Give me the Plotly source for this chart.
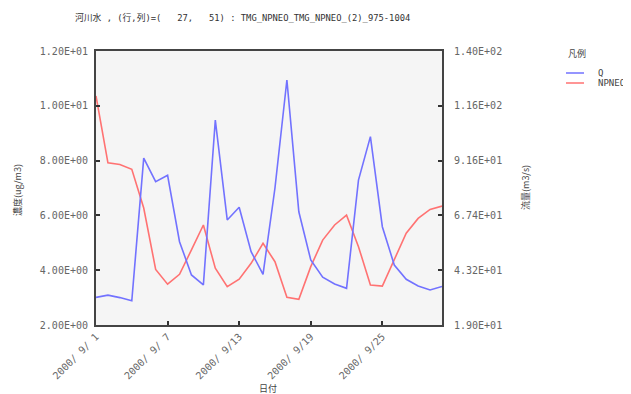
import plotly.graph_objects as go

dates = [f"2000-09-{d:02d}" for d in range(1, 31)]

q_values = [31.2, 32.2, 31.1, 29.7, 92.7, 82.3, 85.1, 55.8, 41.1, 36.7,
            109.5, 65.4, 71.0, 51.4, 41.4, 79.5, 127.2, 69.0, 47.7, 40.1,
            37.1, 35.2, 83.0, 102.2, 62.4, 45.5, 39.2, 36.2, 34.5, 36.0]

npneo_values = [10.36, 7.92, 7.86, 7.68, 6.27, 4.03, 3.49, 3.85, 4.74, 5.65,
                4.07, 3.40, 3.67, 4.25, 4.98, 4.31, 3.01, 2.94, 4.13, 5.10,
                5.65, 6.01, 4.86, 3.46, 3.42, 4.37, 5.35, 5.89, 6.22, 6.34]

x_tick_dates = ["2000-09-01", "2000-09-07", "2000-09-13", "2000-09-19", "2000-09-25"]
x_tick_labels = ["2000/ 9/ 1", "2000/ 9/ 7", "2000/ 9/13", "2000/ 9/19", "2000/ 9/25"]

left_ticks = [2, 4, 6, 8, 10, 12]
left_tick_labels = ["2.00E+00", "4.00E+00", "6.00E+00", "8.00E+00", "1.00E+01", "1.20E+01"]

right_ticks = [19, 43.2, 67.4, 91.6, 115.8, 140]
right_tick_labels = ["1.90E+01", "4.32E+01", "6.74E+01", "9.16E+01", "1.16E+02", "1.40E+02"]

title_text = "河川水 , (行,列)=(   27,   51) : TMG_NPNEO_TMG_NPNEO_(2)_975-1004"

BLUE = "#7272ff"
RED = "#ff7272"
MONO = "DejaVu Sans Mono, Noto Sans CJK JP, monospace"
CJK = "Noto Sans CJK JP, DejaVu Sans Mono"

# page has an 8px body margin; work in screen pixels and shift
OFF = 8
W, H = 631 - OFF, 394 - OFF
L, R, T, B = 96 - OFF, 442 - OFF, 51 - OFF, 325 - OFF


def px(x):
    return (x - OFF - L) / (R - L)


def py(y):
    return (B - (y - OFF)) / (B - T)


fig = go.Figure()
fig.add_trace(go.Scatter(x=dates, y=q_values, mode="lines", name="Q",
                         line=dict(color=BLUE, width=1.6), yaxis="y2", showlegend=False))
fig.add_trace(go.Scatter(x=dates, y=npneo_values, mode="lines", name="NPNEO",
                         line=dict(color=RED, width=1.6), yaxis="y", showlegend=False))

axis_common = dict(showline=True, linecolor="#444", linewidth=2, ticks="inside",
                   ticklen=4, tickwidth=2, tickcolor="#333", showgrid=False, zeroline=False,
                   tickfont=dict(family=MONO, size=10, color="#666"))

fig.update_layout(
    width=W, height=H,
    margin=dict(l=L, r=W - R, t=T, b=H - B, autoexpand=False),
    paper_bgcolor="white",
    plot_bgcolor="#f5f5f5",
    showlegend=False,
    title=dict(text=title_text.replace(" ", "\u00a0"), x=(75 - OFF) / W, xanchor="left",
               xref="container", y=1 - (18 - OFF) / H, yanchor="middle", yref="container",
               font=dict(family=MONO, size=8.8, color="#333")),
    xaxis=dict(**axis_common, type="date", range=[dates[0], dates[-1]], mirror=True,
               tickvals=x_tick_dates, ticktext=x_tick_labels, tickangle=-45),
    yaxis=dict(**axis_common, range=[2, 12], tickvals=left_ticks, ticktext=left_tick_labels,
               ticklabelstandoff=4),
    yaxis2=dict(**axis_common, range=[19, 140], tickvals=right_ticks, ticktext=right_tick_labels,
                overlaying="y", side="right", ticklabelstandoff=8),
)

annotations = [
    dict(text="濃度(ug/m3)", x=17, y=190, textangle=-90),
    dict(text="流量(m3/s)", x=525, y=188, textangle=-90),
    dict(text="日付", x=268, y=388, textangle=0),
]
for a in annotations:
    fig.add_annotation(text=a["text"], x=px(a["x"]), y=py(a["y"]), xref="paper", yref="paper",
                       showarrow=False, textangle=a["textangle"], xanchor="center", yanchor="middle",
                       font=dict(family=CJK, size=9, color="#444"))

# custom legend
fig.add_annotation(text="凡例", x=px(577), y=py(53), xref="paper", yref="paper", showarrow=False,
                   xanchor="center", yanchor="middle", font=dict(family=CJK, size=9, color="#444"))
for name, color, yy in [("Q", BLUE, 73), ("NPNEO", RED, 83)]:
    fig.add_shape(type="line", xref="paper", yref="paper", x0=px(566), x1=px(584),
                  y0=py(yy), y1=py(yy), line=dict(color=color, width=1.5))
    fig.add_annotation(text=name, x=px(596), y=py(yy), xref="paper", yref="paper", showarrow=False,
                       xanchor="left", yanchor="middle", font=dict(family=MONO, size=9, color="#444"))

fig.write_html("out.html")
